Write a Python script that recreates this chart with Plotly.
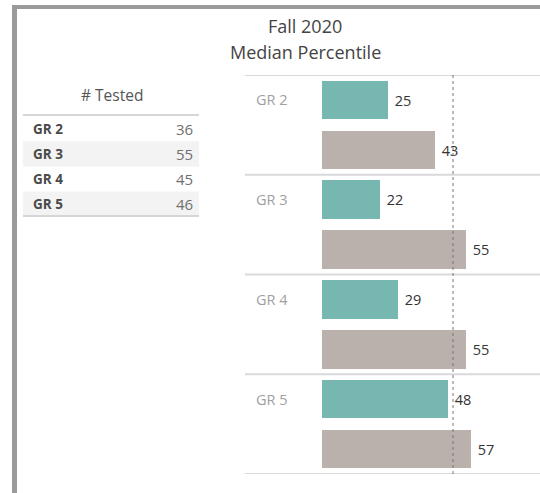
import plotly.graph_objects as go

grades = ["GR 2", "GR 3", "GR 4", "GR 5"]
tested = [36, 55, 45, 46]
median_a = [25, 22, 29, 48]
median_b = [43, 55, 55, 57]
reference = 50

W, H = 540, 493
FONT = "Open Sans"


def px(x):
    return x / W


def py(y):
    return 1 - y / H


teal_y = [2 * i for i in range(len(grades))]
gray_y = [2 * i + 1 for i in range(len(grades))]

fig = go.Figure()
fig.add_trace(go.Bar(
    x=median_a, y=teal_y, orientation="h", width=0.77,
    marker=dict(color="#76b7b2", line=dict(width=0)),
    text=[" " + str(v) for v in median_a], textposition="outside",
    textfont=dict(color="#333333", size=14.5, family=FONT),
    cliponaxis=False, hoverinfo="skip",
))
fig.add_trace(go.Bar(
    x=median_b, y=gray_y, orientation="h", width=0.77,
    marker=dict(color="#bab0ac", line=dict(width=0)),
    text=[" " + str(v) for v in median_b], textposition="outside",
    textfont=dict(color="#333333", size=14.5, family=FONT),
    cliponaxis=False, hoverinfo="skip",
))

shapes = []
# frame
shapes.append(dict(type="rect", xref="paper", yref="paper", x0=px(12), x1=1, y0=py(9), y1=py(5),
                   fillcolor="#9a9a9a", line=dict(width=0), layer="above"))
shapes.append(dict(type="rect", xref="paper", yref="paper", x0=px(12), x1=px(17), y0=0, y1=py(5),
                   fillcolor="#9a9a9a", line=dict(width=0), layer="above"))
# group separators
for yv in [-0.5, 1.5, 3.5, 5.5, 7.5]:
    shapes.append(dict(type="line", xref="x domain", yref="y", x0=0, x1=1, y0=yv, y1=yv,
                       line=dict(color="#d9d9d9", width=2), layer="below"))
# reference line
shapes.append(dict(type="line", xref="x", yref="y domain", x0=reference, x1=reference, y0=0, y1=1,
                   line=dict(color="#777777", width=1, dash="dot"), layer="above"))

# table
row_top = 116
row_h = 25.2
for i, g in enumerate(grades):
    y0 = row_top + i * row_h
    if i % 2 == 1:
        shapes.append(dict(type="rect", xref="paper", yref="paper", x0=px(23), x1=px(199),
                           y0=py(y0 + row_h), y1=py(y0), fillcolor="#f3f3f3", line=dict(width=0),
                           layer="below"))
for yy in [115, 216]:
    shapes.append(dict(type="line", xref="paper", yref="paper", x0=px(23), x1=px(199), y0=py(yy), y1=py(yy),
                       line=dict(color="#d6d6d6", width=2)))

annotations = []


def ann(text, x, y, size, color, xanchor="center", xref="paper", yref="paper"):
    annotations.append(dict(text=text, xref=xref, yref=yref, x=x, y=y, xanchor=xanchor,
                            yanchor="middle", showarrow=False,
                            font=dict(size=size, color=color, family=FONT)))


ann("Fall 2020", px(305), py(26), 18, "#444444")
ann("Median Percentile", px(305), py(52), 18, "#444444")
ann("# Tested", px(112), py(95), 15.5, "#555555")
for i, g in enumerate(grades):
    yc = row_top + i * row_h + row_h / 2
    ann("<b>" + g + "</b>", px(31), py(yc), 13.5, "#4a4a4a", xanchor="left")
    ann(str(tested[i]), px(195), py(yc), 15, "#707070", xanchor="right")
    ann(g, (254 - 245) / (540 - 245), teal_y[i], 14.5, "#a0a0a0", xanchor="left",
        xref="x domain", yref="y")

scale = 2.62
x_lo = -(322 - 245) / scale
x_hi = (540 - 322) / scale

fig.update_layout(
    width=W, height=H,
    margin=dict(l=0, r=0, t=0, b=0),
    paper_bgcolor="white", plot_bgcolor="white",
    showlegend=False,
    font=dict(family=FONT),
    xaxis=dict(domain=[px(245), 1], range=[x_lo, x_hi], visible=False, fixedrange=True),
    yaxis=dict(domain=[py(474), py(75)], range=[7.5, -0.5], visible=False, fixedrange=True),
    shapes=shapes,
    annotations=annotations,
    bargap=0,
)

fig.write_html("out.html", config={"displayModeBar": False},
               post_script="document.body.style.margin='0px';document.body.style.overflow='hidden';")
